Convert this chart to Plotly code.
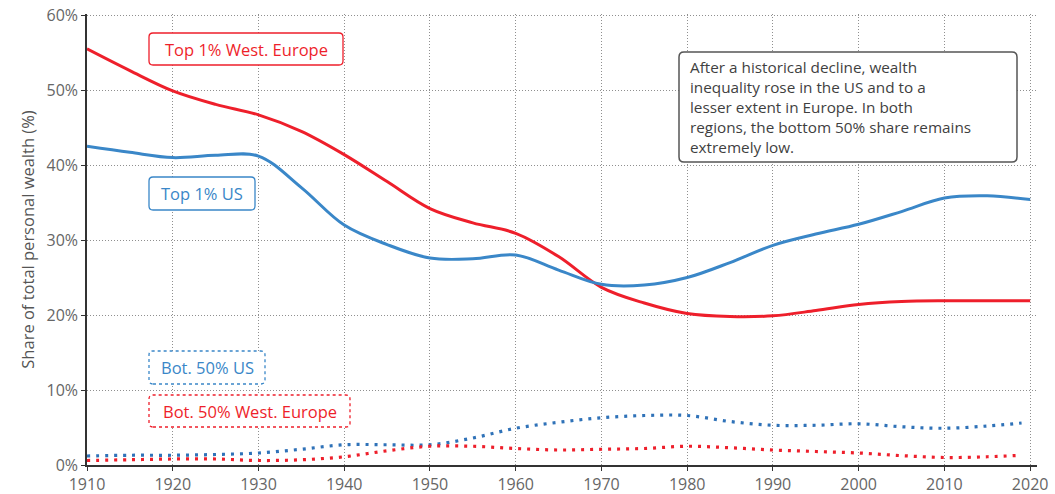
import plotly.graph_objects as go

# ---- data ----
years = [1910, 1915, 1920, 1925, 1930, 1935, 1940, 1945, 1950, 1955, 1960, 1965,
         1970, 1975, 1980, 1985, 1990, 1995, 2000, 2005, 2010, 2015, 2020]
top1_europe = [55.5, 52.6, 49.9, 48.1, 46.7, 44.5, 41.4, 37.8, 34.2, 32.3, 30.9, 27.8,
               23.7, 21.6, 20.2, 19.8, 19.9, 20.6, 21.4, 21.8, 21.9, 21.9, 21.9]
top1_us = [42.5, 41.7, 41.0, 41.3, 41.2, 37.0, 32.0, 29.4, 27.6, 27.5, 28.0, 26.0,
           24.1, 24.0, 25.0, 27.0, 29.3, 30.8, 32.1, 33.8, 35.6, 35.9, 35.4]
years_bot = [1910, 1915, 1920, 1925, 1930, 1935, 1940, 1945, 1950, 1955, 1960, 1965,
             1970, 1975, 1980, 1985, 1990, 1995, 2000, 2005, 2010, 2015, 2019]
bot50_us = [1.2, 1.3, 1.3, 1.4, 1.6, 2.1, 2.7, 2.7, 2.7, 3.6, 4.9, 5.7,
            6.3, 6.6, 6.6, 5.8, 5.3, 5.3, 5.5, 5.1, 4.9, 5.2, 5.6]
bot50_europe = [0.6, 0.7, 0.8, 0.8, 0.6, 0.7, 1.1, 1.9, 2.5, 2.5, 2.2, 2.0,
                2.1, 2.2, 2.5, 2.3, 2.0, 1.8, 1.6, 1.25, 1.0, 1.1, 1.3]

x_ticks = [1910, 1920, 1930, 1940, 1950, 1960, 1970, 1980, 1990, 2000, 2010, 2020]
y_ticks = [0, 10, 20, 30, 40, 50, 60]
y_tick_labels = ["0%", "10%", "20%", "30%", "40%", "50%", "60%"]

RED = "#ee1f2b"
BLUE = "#3a87c8"
FONT = "Open Sans"

# the page's body margin is removed after plotting, so the figure fills the window
W, H = 1055, 494
ML, MR, MT, MB = 87, 18, 14, 29
PW, PH = W - ML - MR, H - MT - MB


def px(x):
    return (x - ML) / PW


def py(y):
    return (H - MB - y) / PH


def rrect(x0, y0, x1, y1, r=5):
    """rounded rectangle path in paper coords from a pixel box"""
    rx, ry = r / PW, r / PH
    a, b, c, d = px(x0), py(y1), px(x1), py(y0)  # left, bottom, right, top
    return (f"M{a+rx},{b} L{c-rx},{b} Q{c},{b} {c},{b+ry} L{c},{d-ry} Q{c},{d} {c-rx},{d} "
            f"L{a+rx},{d} Q{a},{d} {a},{d-ry} L{a},{b+ry} Q{a},{b} {a+rx},{b} Z")


fig = go.Figure()
fig.add_trace(go.Scatter(x=years, y=top1_europe, mode="lines", line=dict(color=RED, width=3, shape="spline", smoothing=1.0), showlegend=False))
fig.add_trace(go.Scatter(x=years, y=top1_us, mode="lines", line=dict(color=BLUE, width=3, shape="spline", smoothing=1.0), showlegend=False))
fig.add_trace(go.Scatter(x=years_bot, y=bot50_us, mode="lines", line=dict(color="#2f72b8", width=3.2, dash="3px,6px", shape="spline"), showlegend=False))
fig.add_trace(go.Scatter(x=years_bot, y=bot50_europe, mode="lines", line=dict(color=RED, width=3.2, dash="3px,6px", shape="spline"), showlegend=False))

shapes = []
annotations = []

labels = [
    ("Top 1% West. Europe", RED, 149, 33, 343, 65, "solid"),
    ("Top 1% US", BLUE, 149, 177, 255, 210, "solid"),
    ("Bot. 50% US", BLUE, 149, 351, 265, 384, "dot"),
    ("Bot. 50% West. Europe", RED, 149, 395, 350, 427, "dot"),
]
for text, col, x0, y0, x1, y1, dash in labels:
    shapes.append(dict(type="path", xref="paper", yref="paper", path=rrect(x0, y0, x1, y1, 4),
                       line=dict(color=col, width=1.3, dash=dash), fillcolor="white", layer="above"))
    annotations.append(dict(xref="paper", yref="paper", x=px((x0 + x1) / 2), y=py((y0 + y1) / 2),
                            text=text, showarrow=False, font=dict(family=FONT, size=16.5, color=col),
                            xanchor="center", yanchor="middle"))

# note box
shapes.append(dict(type="path", xref="paper", yref="paper", path=rrect(679, 52, 1017, 162, 5),
                   line=dict(color="#555555", width=1.5), fillcolor="white", layer="above"))
annotations.append(dict(
    xref="paper", yref="paper", x=px(688), y=py(107),
    text="After a historical decline, wealth<br>inequality rose in the US and to a<br>lesser extent in Europe. In both<br>regions, the bottom 50% share remains<br>extremely low.",
    showarrow=False, align="left", xanchor="left", yanchor="middle",
    font=dict(family=FONT, size=15.3, color="#3f3f3f")))

fig.update_layout(
    width=W, height=H,
    margin=dict(l=ML, r=MR, t=MT, b=MB),
    paper_bgcolor="white", plot_bgcolor="white",
    font=dict(family=FONT, color="#666666"),
    shapes=shapes, annotations=annotations,
    xaxis=dict(range=[1910, 2020.8], tickvals=x_ticks, showgrid=True, gridcolor="#8f8f8f",
               griddash="1px,2px", gridwidth=1, showline=True, linecolor="#333333", linewidth=1.5,
               ticks="outside", ticklen=4, tickcolor="#333333", zeroline=False, automargin=False,
               ticklabeloverflow="allow",
               tickfont=dict(family=FONT, size=16, color="#666666")),
    yaxis=dict(range=[0, 60.15], tickvals=y_ticks, ticktext=y_tick_labels, showgrid=True,
               gridcolor="#8f8f8f", griddash="1px,2px", gridwidth=1, showline=True,
               linecolor="#333333", linewidth=1.5, ticks="outside", ticklen=4,
               tickcolor="#333333", zeroline=False, automargin=False,
               ticklabeloverflow="allow",
               tickfont=dict(family=FONT, size=16, color="#666666"),
               title=dict(text="Share of total personal wealth (%)", standoff=8,
                          font=dict(family=FONT, size=16.5, color="#555555"))),
)

fig.write_html("out.html", config={"displayModeBar": False},
               post_script="document.body.style.margin='0';document.body.style.overflow='hidden';")
